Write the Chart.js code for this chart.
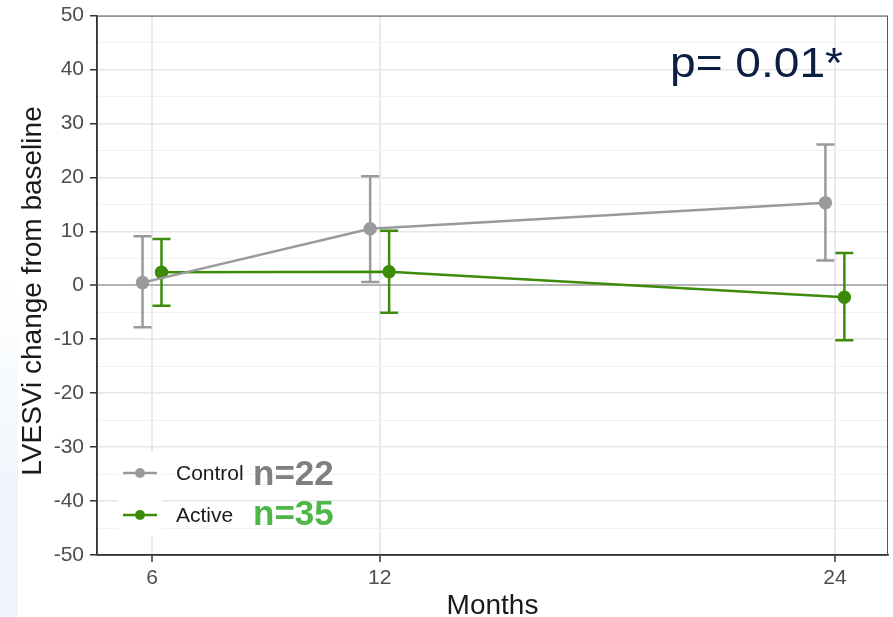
<!DOCTYPE html>
<html>
<head>
<meta charset="utf-8">
<script src="https://cdn.jsdelivr.net/npm/chart.js@4.4.0/dist/chart.umd.min.js"></script>
<style>
  html, body { margin: 0; padding: 0; background: #fff; overflow: hidden; width: 893px; height: 617px; }
  /* canvas is nudged a few px so the plot panel lands where the original has it */
  #wrap { width: 896px; height: 620px; position: absolute; left: 0; top: -3px; }
</style>
</head>
<body>
<div id="wrap"><canvas id="chart"></canvas></div>
<script>
// values (months after baseline)
const months = [6, 12, 24];
const monthLabels = ["6", "12", "24"];

const controlMean = [0.5, 10.5, 15.3];
const controlLow  = [-7.8, 0.6, 4.6];
const controlHigh = [9.1, 20.2, 26.1];

const activeMean = [2.4, 2.5, -2.2];
const activeLow  = [-3.8, -5.1, -10.2];
const activeHigh = [8.6, 10.1, 6.0];

const seriesNames = ["Control", "Active"];
const seriesN = ["n=22", "n=35"];
const pText = "p= 0.01*";

const GRAY = "#9a9a9a";
const GREEN = "#3c8c0a";
const dodge = 0.25;
const DY = 3; // canvas offset vs page
const FONT = "'Liberation Sans', Arial, sans-serif";

function pts(mean, shift) {
  return mean.map((v, i) => ({ x: months[i] + shift, y: v }));
}

// error bars under the lines and points
const errorBars = {
  id: "errorBars",
  beforeDatasetsDraw(chart) {
    const { ctx, scales: { x, y } } = chart;
    const sets = [
      { lo: controlLow, hi: controlHigh, shift: -dodge, color: GRAY },
      { lo: activeLow, hi: activeHigh, shift: dodge, color: GREEN }
    ];
    ctx.save();
    sets.forEach(s => {
      ctx.strokeStyle = s.color;
      ctx.lineWidth = 2.5;
      months.forEach((m, i) => {
        const px = x.getPixelForValue(m + s.shift);
        const y0 = y.getPixelForValue(s.lo[i]);
        const y1 = y.getPixelForValue(s.hi[i]);
        ctx.beginPath();
        ctx.moveTo(px, y0); ctx.lineTo(px, y1);
        ctx.moveTo(px - 9, y0); ctx.lineTo(px + 9, y0);
        ctx.moveTo(px - 9, y1); ctx.lineTo(px + 9, y1);
        ctx.stroke();
      });
    });
    ctx.restore();
  }
};

const decorations = {
  id: "decorations",
  beforeDraw(chart) {
    const { ctx, width, height } = chart;
    ctx.save();
    ctx.fillStyle = "#fff";
    ctx.fillRect(0, 0, width, height);
    // faint blue strip from the slide on the left
    const g = ctx.createLinearGradient(0, 280 + DY, 0, 480 + DY);
    g.addColorStop(0, "rgba(236,244,251,0)");
    g.addColorStop(1, "rgba(236,244,251,0.8)");
    ctx.fillStyle = g;
    ctx.fillRect(0, 280 + DY, 18, height - 280);
    ctx.restore();
  },
  afterDraw(chart) {
    const { ctx, chartArea: a } = chart;
    ctx.save();
    // panel border
    ctx.strokeStyle = "#555";
    ctx.lineWidth = 1;
    ctx.strokeRect(a.left + 0.5, a.top + 0.5, a.right - a.left - 1, a.bottom - a.top);

    ctx.translate(0, DY);
    // axis titles
    ctx.fillStyle = "#1a1a1a";
    ctx.font = "28px " + FONT;
    ctx.textAlign = "center";
    ctx.textBaseline = "alphabetic";
    ctx.fillText("Months", (a.left + a.right) / 2, 614);
    ctx.save();
    ctx.translate(33, 291);
    ctx.rotate(-Math.PI / 2);
    ctx.textBaseline = "middle";
    ctx.fillText("LVESVi change from baseline", 0, 0);
    ctx.restore();

    // legend
    const keyY = [473, 515];
    const colors = [GRAY, GREEN];
    ctx.fillStyle = "#fff";
    ctx.fillRect(118, 452, 44, 84);
    keyY.forEach((ky, i) => {
      ctx.strokeStyle = colors[i];
      ctx.lineWidth = 2.5;
      ctx.beginPath();
      ctx.moveTo(123, ky); ctx.lineTo(157, ky);
      ctx.stroke();
      ctx.fillStyle = colors[i];
      ctx.beginPath();
      ctx.arc(140, ky, 5, 0, Math.PI * 2);
      ctx.fill();
      ctx.fillStyle = "#1a1a1a";
      ctx.font = "21px " + FONT;
      ctx.textAlign = "left";
      ctx.fillText(seriesNames[i], 176, ky + 7);
    });
    ctx.font = "bold 35px " + FONT;
    ctx.fillStyle = "#808080";
    ctx.fillText(seriesN[0], 253, 485);
    ctx.fillStyle = "#4db848";
    ctx.fillText(seriesN[1], 253, 525);

    // p value
    ctx.font = "42px " + FONT;
    ctx.fillStyle = "#0c1e42";
    const w = ctx.measureText(pText).width;
    ctx.translate(670, 77);
    ctx.scale(173 / w, 1);
    ctx.fillText(pText, 0, 0);
    ctx.restore();
  }
};

new Chart(document.getElementById("chart"), {
  type: "line",
  data: {
    datasets: [
      {
        label: seriesNames[0],
        data: pts(controlMean, -dodge),
        borderColor: GRAY,
        backgroundColor: GRAY,
        borderWidth: 2.5,
        pointRadius: 5.5,
        pointHoverRadius: 5.5,
        tension: 0
      },
      {
        label: seriesNames[1],
        data: pts(activeMean, dodge),
        borderColor: GREEN,
        backgroundColor: GREEN,
        borderWidth: 2.5,
        pointRadius: 5.5,
        pointHoverRadius: 5.5,
        tension: 0
      }
    ]
  },
  options: {
    responsive: true,
    maintainAspectRatio: false,
    animation: false,
    layout: { padding: { top: 12, right: 2, left: 0, bottom: 0 } },
    plugins: { legend: { display: false }, tooltip: { enabled: false } },
    scales: {
      x: {
        type: "linear",
        min: 4.55,
        max: 25.4,
        afterBuildTicks: s => { s.ticks = months.map(v => ({ value: v })); },
        afterFit: s => { s.height = 62; },
        ticks: {
          callback: (v) => monthLabels[months.indexOf(v)],
          color: "#4d4d4d",
          font: { size: 21, family: FONT },
          padding: 4,
          maxRotation: 0
        },
        grid: { color: "#e9e9e9", lineWidth: 2, tickColor: "#333", tickLength: 7, tickWidth: 1.5 },
        border: { display: true, color: "#333", width: 1.5 }
      },
      y: {
        min: -50,
        max: 50,
        afterFit: s => { s.width = 97; },
        ticks: {
          stepSize: 5,
          autoSkip: false,
          callback: v => (v % 10 === 0 ? String(v) : ""),
          color: "#4d4d4d",
          font: { size: 21, family: FONT },
          padding: 6
        },
        grid: {
          color: c => c.tick.value === 0 ? "#b3b3b3" : (c.tick.value % 10 === 0 ? "#e6e6e6" : "#f1f1f1"),
          lineWidth: c => c.tick.value === 0 ? 2 : (c.tick.value % 10 === 0 ? 1.5 : 1),
          tickColor: c => c.tick.value % 10 === 0 ? "#333" : "rgba(0,0,0,0)",
          tickLength: 7,
          tickWidth: 1.5
        },
        border: { display: true, color: "#333", width: 1.5 }
      }
    }
  },
  plugins: [errorBars, decorations]
});
</script>
</body>
</html>
